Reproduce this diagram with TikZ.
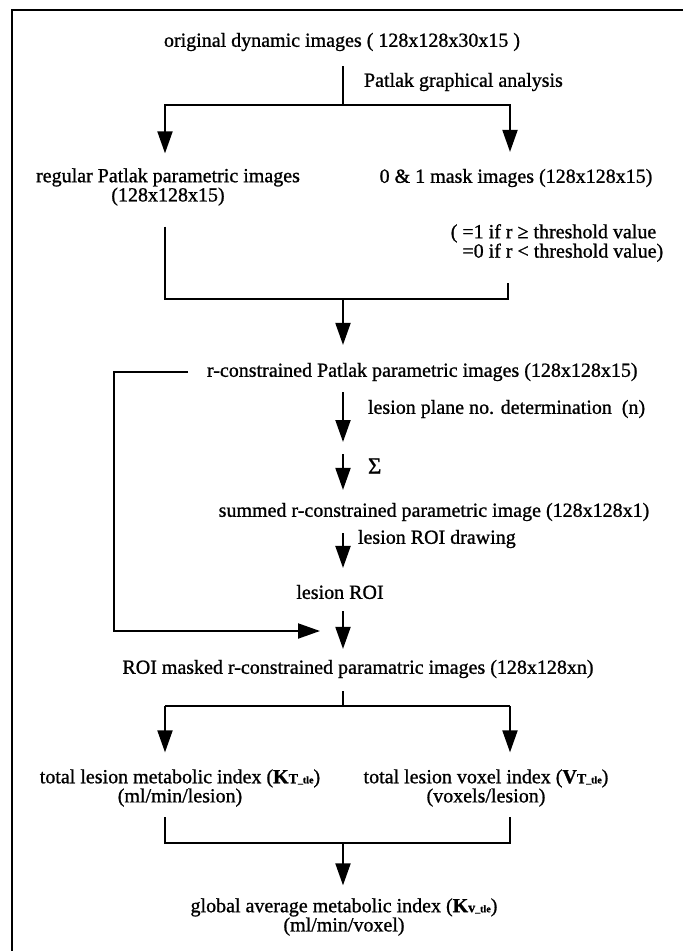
\documentclass[tikz,border=0pt]{standalone}
\usepackage{fontspec}
\setmainfont{Liberation Serif}[FakeBold=1]
\usetikzlibrary{arrows.meta, positioning}

% small bold index such as K_T_tle
\newcommand{\lesionidx}[2]{\textbf{#1{\fontsize{14}{14}\selectfont #2}{\fontsize{10}{10}\selectfont\_tle}}}

\begin{document}
\begin{tikzpicture}[x=1pt, y=-1pt, line width=2pt,
    flow/.style={-{Triangle[length=22pt, width=15pt]}},
    txt/.style={inner sep=0pt, align=center, font=\fontsize{20}{17}\selectfont}]
    \useasboundingbox (0,0) rectangle (683,951);

    % Draw the frame (top and left edges only)
    \draw[line width=2.5pt] (683,10) -- (12,10) -- (12,951);

    % First step: Patlak analysis
    \node[txt] (orig) at (342,42) {original dynamic images ( 128x128x30x15 )};
    \node[txt, anchor=west] (patlak) at (363,82) {Patlak graphical analysis};
    \coordinate (split1) at (343,105);
    \draw[shorten <=14pt] (orig.south -| split1) -- (split1);

    \node[txt] (reg) at (168,187) {regular Patlak parametric images\\(128x128x15)};
    \node[txt] (mask) at (516,178) {0 \& 1 mask images (128x128x15)};
    \node[txt, align=left] (thr) at (557,243) {( =1 if r ≥ threshold value\\\phantom{( }=0 if r < threshold value)};
    \draw[flow, shorten >=14pt] (split1) -| (reg.north -| 165,0);
    \draw[flow, shorten >=16pt] (split1) -| (mask.north -| 510,0);

    % Join the two image sets
    \coordinate (join1) at (343,299);
    \coordinate (thrdrop) at (508,283);
    \draw[shorten <=20pt] (reg.south -| 165,0) |- (join1);
    \draw (thrdrop) |- (join1);

    \node[txt, anchor=west] (rcon) at (206,372) {r-constrained Patlak parametric images (128x128x15)};
    \draw[flow, shorten >=17pt] (join1) -- (join1 |- rcon.north);

    % Plane selection and summing
    \coordinate (rconout) at (343,392);
    \coordinate (sigmain) at (343,442);
    \draw[flow] (rconout) -- (sigmain);
    \node[txt, anchor=west] (plane) at (367,409) {lesion plane no. determination\ \ (n)};

    \coordinate (sigmaout) at (343,454);
    \node[txt, anchor=west, font=\fontsize{23}{23}\selectfont] (sigma) at (367,466) {Σ};
    \node[txt] (summed) at (434,512) {summed r-constrained parametric image (128x128x1)};
    \draw[flow, shorten >=12pt] (sigmaout) -- (sigmaout |- summed.north);

    % ROI drawing
    \node[txt] (roi) at (340,592) {lesion ROI};
    \draw[flow, shorten <=11pt, shorten >=16pt] (summed.south -| sigmaout) -- (sigmaout |- roi.north);
    \node[txt, anchor=west] (roidraw) at (357,539) {lesion ROI drawing};

    \node[txt] (masked) at (358,669) {ROI masked r-constrained paramatric images (128x128xn)};
    \draw[flow, shorten <=11pt, shorten >=10pt] (roi.south -| sigmaout) -- (sigmaout |- masked.north);

    % Loop back from the r-constrained images
    \coordinate (loopcorner) at (114,372);
    \coordinate (loopin) at (320,631);
    \draw[flow, shorten <=18pt] (rcon.west) -- (loopcorner) |- (loopin);

    % Split into the two lesion indices
    \coordinate (split2) at (343,706);
    \coordinate (left2) at (165,706);
    \coordinate (right2) at (510,706);
    \draw[shorten <=12pt] (masked.south -| split2) -- (split2);
    \draw (left2) -- (right2);

    \node[txt] (tli) at (180,788) {total lesion metabolic index (\lesionidx{K}{T})\\(ml/min/lesion)};
    \node[txt] (tvi) at (486,788) {total lesion voxel index (\lesionidx{V}{T})\\(voxels/lesion)};
    \draw[flow, shorten >=16pt] (left2) -- (left2 |- tli.north);
    \draw[flow, shorten >=16pt] (right2) -- (right2 |- tvi.north);

    % Join into the global index
    \coordinate (join3) at (343,843);
    \coordinate (leftdrop) at (165,817);
    \coordinate (rightdrop) at (510,817);
    \draw (leftdrop) |- (join3) -| (rightdrop);

    \node[txt] (glob) at (344,917) {global average metabolic index (\lesionidx{K}{v})\\(ml/min/voxel)};
    \draw[flow, shorten >=12pt] (join3) -- (join3 |- glob.north);

\end{tikzpicture}
\end{document}
